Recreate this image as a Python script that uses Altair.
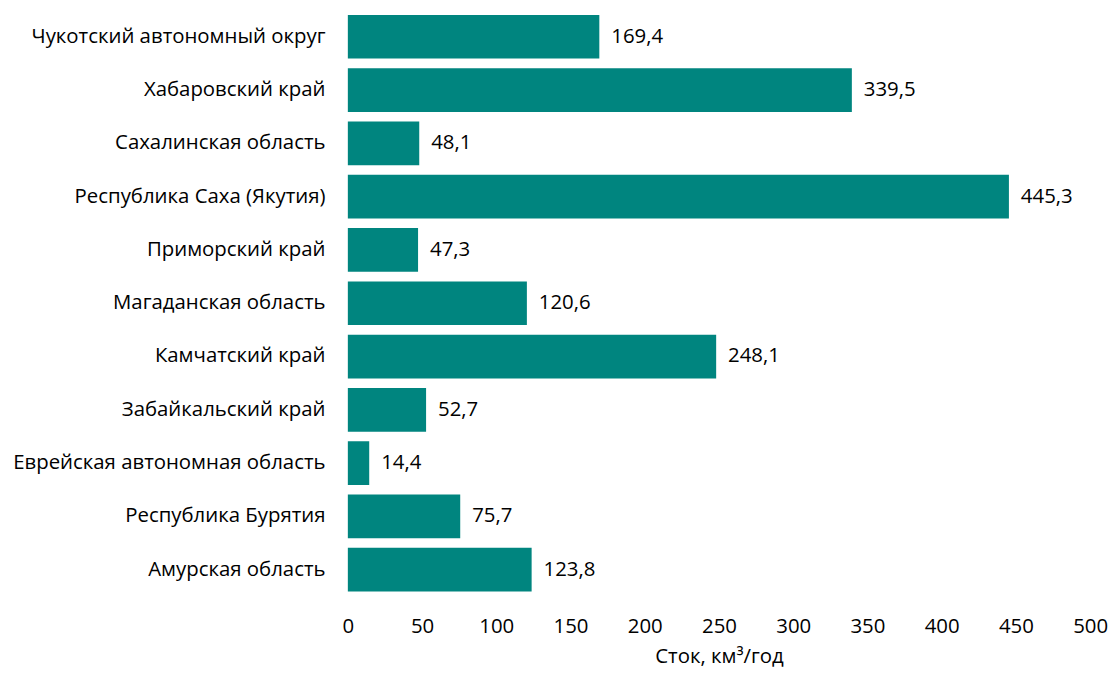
import altair as alt
import pandas as pd

regions = [
    "Чукотский автономный округ",
    "Хабаровский край",
    "Сахалинская область",
    "Республика Саха (Якутия)",
    "Приморский край",
    "Магаданская область",
    "Камчатский край",
    "Забайкальский край",
    "Еврейская автономная область",
    "Республика Бурятия",
    "Амурская область",
]
values = [169.4, 339.5, 48.1, 445.3, 47.3, 120.6, 248.1, 52.7, 14.4, 75.7, 123.8]
x_ticks = [0, 50, 100, 150, 200, 250, 300, 350, 400, 450, 500]

df = pd.DataFrame({"region": regions, "value": values})
df["label"] = [f"{v:.1f}".replace(".", ",") for v in values]

FONT = "Open Sans"
FS = 20.5
COLOR = "#00857F"

x_enc = alt.X(
    "value:Q",
    scale=alt.Scale(domain=[0, 500], nice=False),
    title="Сток, км³/год",
    axis=alt.Axis(
        values=x_ticks, domain=False, ticks=False, grid=False, labelFlush=False,
        labelPadding=20, labelFont=FONT, labelFontSize=FS, labelColor="#000000",
        titleFont=FONT, titleFontSize=FS, titleFontWeight="normal",
        titleColor="#000000", titlePadding=10,
    ),
)
y_enc = alt.Y(
    "region:N",
    sort=regions,
    title=None,
    scale=alt.Scale(paddingInner=0.18, paddingOuter=0.09),
    axis=alt.Axis(
        domain=False, ticks=False, grid=False, labelPadding=23,
        labelFont=FONT, labelFontSize=FS, labelColor="#000000", labelLimit=500,
    ),
)

bars = alt.Chart(df).mark_bar(color=COLOR).encode(x=x_enc, y=y_enc)

text = alt.Chart(df).mark_text(
    align="left", baseline="middle", dx=12, font=FONT, fontSize=FS, color="#000000"
).encode(x=x_enc, y=y_enc, text="label:N")

chart = (
    alt.layer(bars, text)
    .properties(
        width=747, height=590,
        background="#ffffff",
        autosize=alt.AutoSizeParams(type="none"),
        padding={"left": 342, "top": 0, "right": 20, "bottom": 72},
    )
    .configure_view(stroke=None)
    .configure_axis(grid=False, domain=False, ticks=False)
)

chart.save("out.html", embed_options={"renderer": "svg", "actions": False})
